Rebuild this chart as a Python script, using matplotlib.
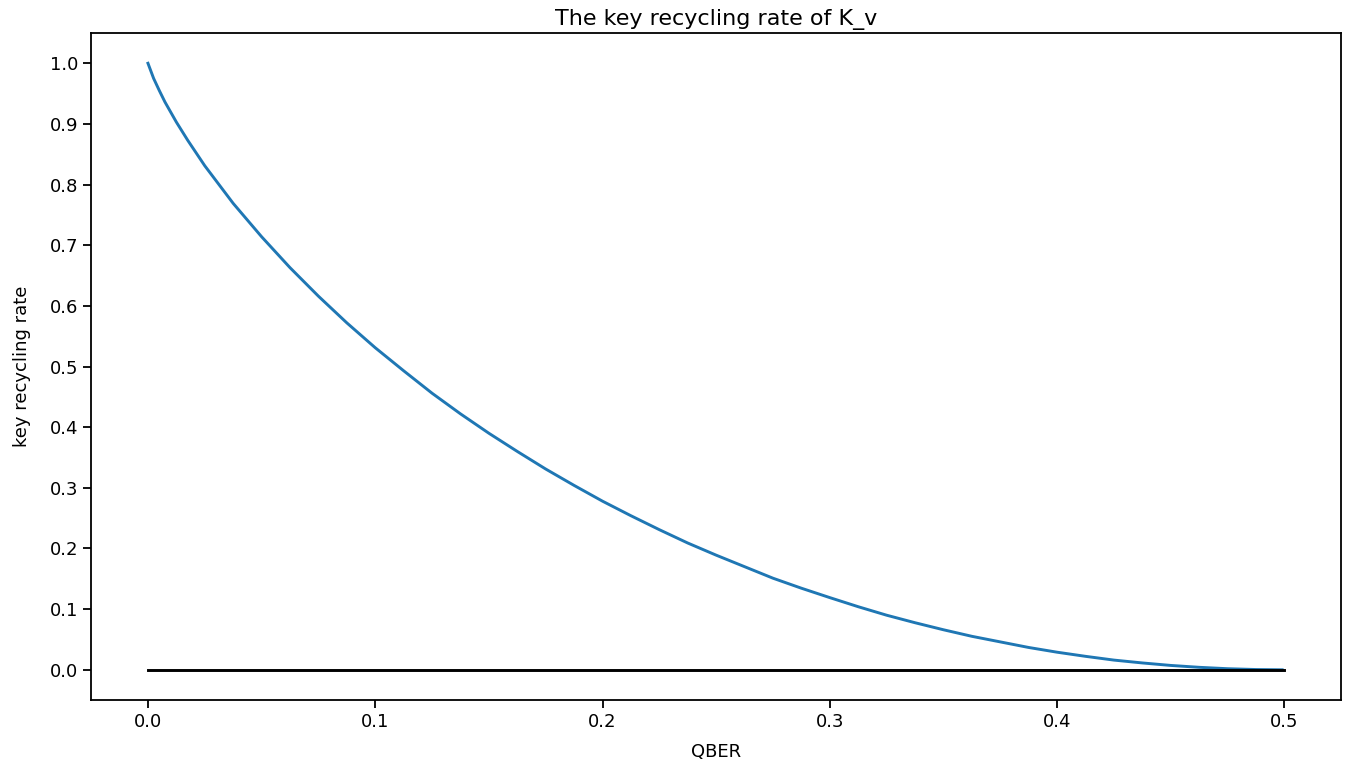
import matplotlib
matplotlib.use('Agg')
import matplotlib.pyplot as plt

# QBER values and the key recycling rate
qber = [0.0, 0.0025, 0.005, 0.0075, 0.0125, 0.0175, 0.025, 0.0375, 0.05,
        0.0625, 0.075, 0.0875, 0.1, 0.1125, 0.125, 0.1375, 0.15, 0.1625,
        0.175, 0.1875, 0.2, 0.2125, 0.225, 0.2375, 0.25, 0.2625, 0.275,
        0.2875, 0.3, 0.3125, 0.325, 0.3375, 0.35, 0.3625, 0.375, 0.3875,
        0.4, 0.4125, 0.425, 0.4375, 0.45, 0.4625, 0.475, 0.4875, 0.499]
rate = [1.0, 0.975, 0.955, 0.936, 0.903, 0.873, 0.831, 0.769, 0.714,
        0.663, 0.616, 0.572, 0.531, 0.493, 0.456, 0.422, 0.390, 0.360,
        0.331, 0.304, 0.278, 0.254, 0.231, 0.209, 0.189, 0.170, 0.151,
        0.1345, 0.119, 0.104, 0.090, 0.0776, 0.066, 0.0552, 0.046, 0.0368,
        0.029, 0.0222, 0.016, 0.0113, 0.0072, 0.0041, 0.0018, 0.00045, 0.0]
zero_x = [0.0, 0.5]
zero_y = [0.0, 0.0]
yticks = [0.0, 0.1, 0.2, 0.3, 0.4, 0.5, 0.6, 0.7, 0.8, 0.9, 1.0]

plt.rcParams['font.size'] = 13
plt.rcParams['axes.linewidth'] = 1.3

fig = plt.figure(figsize=(13.5, 7.66), dpi=100)
ax = fig.add_axes([0.0675, 0.086, 0.926, 0.871])

ax.plot(qber, rate, color='#1f77b4', lw=2.1)
ax.plot(zero_x, zero_y, color='black', lw=2.1)

ax.set_yticks(yticks)
ax.set_xticks([0.0, 0.1, 0.2, 0.3, 0.4, 0.5])
ax.set_xlim(-0.025, 0.525)
ax.set_ylim(-0.05, 1.05)
ax.tick_params(width=1.3, length=6)

ax.set_title('The key recycling rate of K_v', fontsize=16)
ax.set_xlabel('QBER')
ax.set_ylabel('key recycling rate')
ax.yaxis.set_label_coords(-0.048, 0.5)
ax.xaxis.set_label_coords(0.5, -0.064)

fig.savefig('out.png', dpi=100)
